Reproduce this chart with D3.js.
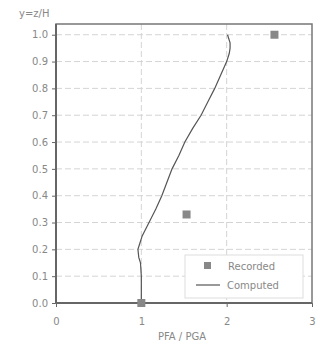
<!DOCTYPE html>
<html><head><meta charset="utf-8">
<script src="https://cdn.jsdelivr.net/npm/d3@7"></script>
<style>body{margin:0;background:#fff}svg{display:block}text{font-family:"DejaVu Sans",sans-serif}</style>
</head><body><svg id="c" width="320" height="347"></svg>
<script>
const xTicks = [0, 1, 2, 3];
const yTicks = [0, 0.1, 0.2, 0.3, 0.4, 0.5, 0.6, 0.7, 0.8, 0.9, 1.0];
const recordedX = [1.0, 1.53, 2.56];
const recordedY = [0.0, 0.33, 1.0];
const computedY = [0, 0.05, 0.1, 0.15, 0.17, 0.2, 0.22, 0.25, 0.3, 0.35, 0.4, 0.45, 0.5, 0.55, 0.6, 0.65, 0.7, 0.75, 0.8, 0.85, 0.9, 0.93, 0.95, 0.97, 1.0];
const computedX = [1.0, 1.0, 1.0, 0.99, 0.97, 0.96, 0.98, 1.01, 1.09, 1.17, 1.24, 1.30, 1.36, 1.44, 1.51, 1.60, 1.70, 1.78, 1.86, 1.93, 2.0, 2.03, 2.04, 2.04, 2.01];

const svg = d3.select("#c");
const L = 56, R = 312, T = 24, B = 303;
const x = d3.scaleLinear().domain([0, 3]).range([L, R]);
const y = d3.scaleLinear().domain([0, 1.04]).range([B, T]);

// grid
svg.append("g").selectAll("line").data(yTicks.filter(d => d > 0)).join("line")
  .attr("x1", L).attr("x2", R).attr("y1", d => y(d)).attr("y2", d => y(d))
  .attr("stroke", "#d4d4d4").attr("stroke-dasharray", "6,3");
svg.append("g").selectAll("line").data([1, 2]).join("line")
  .attr("x1", d => x(d)).attr("x2", d => x(d)).attr("y1", T).attr("y2", B)
  .attr("stroke", "#d4d4d4").attr("stroke-dasharray", "6,3");

// axes
const gx = svg.append("g").attr("transform", `translate(0,${B})`)
  .call(d3.axisBottom(x).tickValues(xTicks).tickFormat(d3.format("d")).tickSize(4).tickPadding(11));
const gy = svg.append("g").attr("transform", `translate(${L},0)`)
  .call(d3.axisLeft(y).tickValues(yTicks).tickFormat(d3.format(".1f")).tickSize(4).tickPadding(4));
[gx, gy].forEach(g => {
  g.select(".domain").remove();
  g.selectAll(".tick line").attr("stroke", "#666");
  g.selectAll(".tick text").attr("fill", "#888").attr("font-size", 10);
});

// frame
svg.append("rect").attr("x", L).attr("y", T).attr("width", R - L).attr("height", B - T)
  .attr("fill", "none").attr("stroke", "#777").attr("stroke-width", 1.5);
svg.append("line").attr("x1", L).attr("x2", L).attr("y1", T).attr("y2", B).attr("stroke", "#666").attr("stroke-width", 2);
svg.append("line").attr("x1", L).attr("x2", R).attr("y1", B).attr("y2", B).attr("stroke", "#666").attr("stroke-width", 2);

// computed line
const pts = computedX.map((v, i) => [v, computedY[i]]);
svg.append("path").datum(pts)
  .attr("d", d3.line().x(d => x(d[0])).y(d => y(d[1])))
  .attr("fill", "none").attr("stroke", "#555").attr("stroke-width", 1.2);

// recorded
svg.append("g").selectAll("rect").data(recordedX.map((v, i) => [v, recordedY[i]])).join("rect")
  .attr("x", d => x(d[0]) - 4).attr("y", d => y(d[1]) - 4).attr("width", 8).attr("height", 8)
  .attr("fill", "#888");

// legend
const lg = svg.append("g");
lg.append("rect").attr("x", 185).attr("y", 255).attr("width", 118).attr("height", 43)
  .attr("fill", "#fff").attr("stroke", "#ddd");
lg.append("rect").attr("x", 204).attr("y", 262).attr("width", 7).attr("height", 7).attr("fill", "#888");
lg.append("text").attr("x", 228).attr("y", 269.5).text("Recorded").attr("font-size", 10).attr("fill", "#888");
lg.append("line").attr("x1", 196).attr("x2", 220).attr("y1", 285).attr("y2", 285).attr("stroke", "#555").attr("stroke-width", 1.2);
lg.append("text").attr("x", 227).attr("y", 289).text("Computed").attr("font-size", 10).attr("fill", "#888");

// axis titles
svg.append("text").attr("x", 19).attr("y", 17).text("y=z/H").attr("font-size", 10).attr("fill", "#888");
svg.append("text").attr("x", 182).attr("y", 340).attr("text-anchor", "middle").text("PFA / PGA").attr("font-size", 10).attr("fill", "#888");
</script></body></html>
